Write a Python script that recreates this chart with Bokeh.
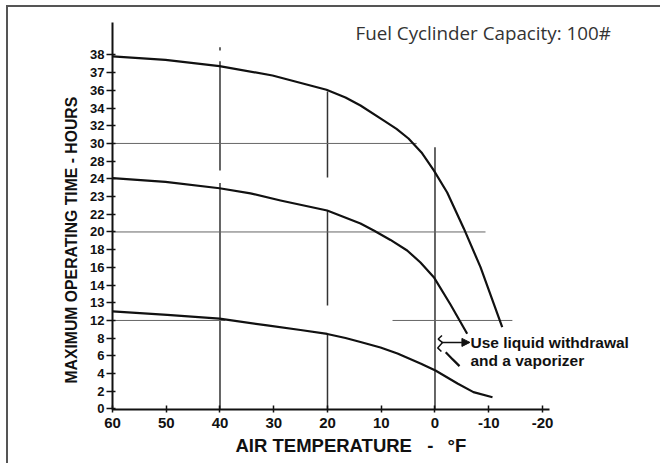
import numpy as np
from bokeh.plotting import figure
from bokeh.models import Range1d, FixedTicker, Label, Arrow, NormalHead, Title
from bokeh.embed import file_html
from bokeh.resources import INLINE

# ---- axis definitions ----
hour_ticks = [0, 2, 4, 6, 8, 12, 13, 14, 16, 18, 20, 22, 23, 24, 28, 30, 32, 34, 36, 37, 38]
temp_ticks = [60, 50, 40, 30, 20, 10, 0, -10, -20]

# ---- curves (air temperature degF, hours) ----
top_temp = [60, 50.14, 40.09, 30.23, 20.19, 16.65, 13.86, 9.58, 7.16, 4.93, 2.51, 0.22,
            -2.27, -5.36, -8.47, -12.51]
top_hours = [37.92, 37.72, 37.37, 36.84, 36.03, 35.2, 34.29, 32.6, 31.64, 30.56, 28.98, 25.9,
             23.23, 20.4, 16.02, 10.49]

mid_temp = [60, 50.14, 40.09, 34.33, 28.74, 20.06, 13.86, 11.39, 8.28, 5.18, 2.7, 0.22, -2.88, -5.99]
mid_hours = [24.16, 23.83, 23.47, 23.18, 22.78, 22.21, 20.96, 20.17, 19.1, 17.91, 16.55, 14.89,
             12.9, 9.0]

low_temp = [60, 49.82, 40.09, 31.22, 25.02, 20.05, 16.65, 13.86, 10.14, 6.98, 2.70, -0.09,
            -4.19, -7.16, -10.7]
low_hours = [12.51, 12.32, 12.10, 10.87, 9.85, 8.95, 8.04, 7.57, 6.95, 6.27, 5.14, 4.35,
             2.88, 1.9, 1.33]

ext_temp = [-2.0, -3.3, -4.56]
ext_hours = [6.42, 5.6, 4.84]

# ---- guide lines ----
vline_temp = [40, 40, 40, 20, 20, 20, 0]
vline_h0 = [38.43, 37.64, 23.76, 35.88, 22.21, 9.08, 29.58]
vline_h1 = [38.25, 25.88, 0, 24.32, 12.85, 0, 0]

hline_hours = [30, 20, 12, 12]
hline_t0 = [60, 60, 60, 7.9]
hline_t1 = [3.4, -9.4, 39, -14.4]

idx = np.arange(len(hour_ticks), dtype=float)


def ypos(h):
    h = np.asarray(h, dtype=float)
    p = np.interp(h, hour_ticks, idx)
    p = np.where(h > hour_ticks[-1], idx[-1] + (h - hour_ticks[-1]), p)
    return p


p = figure(width=654, height=458, output_backend="svg", toolbar_location=None,
           x_range=Range1d(60, -42.33), y_range=Range1d(-0.03, 22.68),
           min_border_left=104, min_border_right=0, min_border_top=0, min_border_bottom=56)
p.styles = {"margin-left": "6px", "margin-top": "5px",
            "border-left": "2px solid #555555", "border-top": "2px solid #555555"}
p.outline_line_color = None
p.xgrid.visible = False
p.ygrid.visible = False
p.background_fill_color = "white"
p.border_fill_color = "white"

# axes
p.xaxis.ticker = FixedTicker(ticks=temp_ticks)
p.xaxis.major_label_overrides = {t: str(t) for t in temp_ticks}
p.xaxis.bounds = (-21.3, 60)
p.yaxis.ticker = FixedTicker(ticks=list(idx))
p.yaxis.major_label_overrides = {float(i): str(h) for i, h in zip(idx, hour_ticks)}
p.yaxis.bounds = (-0.03, 21.84)
for ax in (p.xaxis, p.yaxis):
    ax.axis_line_width = 2
    ax.axis_line_color = "#111111"
    ax.major_tick_line_color = "#111111"
    ax.major_tick_line_width = 1.5
    ax.minor_tick_line_color = None
    ax.major_label_text_font = "Liberation Sans"
    ax.major_label_text_font_style = "bold"
    ax.major_label_text_color = "#111111"
p.xaxis.major_tick_in = 4
p.xaxis.major_tick_out = 3
p.xaxis.major_label_standoff = 5
p.xaxis.major_label_text_font_size = "15px"
p.yaxis.major_tick_in = 3
p.yaxis.major_tick_out = 6
p.yaxis.major_label_standoff = 2
p.yaxis.major_label_text_font_size = "13px"

# axis titles
p.add_layout(Title(text="MAXIMUM OPERATING TIME - HOURS", align="left", offset=26,
                   text_font="Liberation Sans", text_font_style="bold", text_font_size="15.75px",
                   text_color="#111111", standoff=16), "left")
p.add_layout(Title(text="AIR TEMPERATURE\u00a0\u00a0\u00a0-\u00a0\u00a0\u2009°F", align="left", offset=123,
                   text_font="Liberation Sans", text_font_style="bold", text_font_size="18.5px",
                   text_color="#111111", standoff=5), "below")

# guide lines
p.segment(x0=vline_temp, y0=ypos(vline_h0), x1=vline_temp, y1=ypos(vline_h1),
          line_color="#333333", line_width=1.5)
p.segment(x0=hline_t0, y0=ypos(hline_hours), x1=hline_t1, y1=ypos(hline_hours),
          line_color="#666666", line_width=1)

# curves
for t, h in ((top_temp, top_hours), (mid_temp, mid_hours), (low_temp, low_hours), (ext_temp, ext_hours)):
    p.line(t, ypos(h), line_color="#111111", line_width=2.2, line_join="round")

# bracket squiggle
brk_t = [-1.3, -0.6, -1.4, -0.5, -1.2]
brk_h = [8.6, 7.9, 7.5, 6.9, 6.5]
p.line(brk_t, ypos(brk_h), line_color="#111111", line_width=1.5)

# arrow
p.add_layout(Arrow(end=NormalHead(size=8, fill_color="#111111", line_color="#111111"),
                   x_start=-1.2, y_start=float(ypos(7.52)), x_end=-6.5, y_end=float(ypos(7.52)),
                   line_color="#111111", line_width=1.5))

note_font = "Liberation Sans"
p.add_layout(Label(x=-6.6, y=float(ypos(7.52)), text="Use liquid withdrawal", text_font=note_font,
                   text_font_style="bold", text_font_size="15.5px", text_baseline="middle",
                   text_align="left", text_color="#111111"))
p.add_layout(Label(x=-6.6, y=float(ypos(5.42)), text="and a vaporizer", text_font=note_font,
                   text_font_style="bold", text_font_size="15.5px", text_baseline="middle",
                   text_align="left", text_color="#111111"))

# title
p.add_layout(Label(x=14.8, y=21.22, text="Fuel Cyclinder Capacity: 100#", text_font="Open Sans",
                   text_font_size="18.8px", text_baseline="middle", text_align="left",
                   text_color="#333333"))

open("out.html", "w").write(file_html(p, INLINE))
